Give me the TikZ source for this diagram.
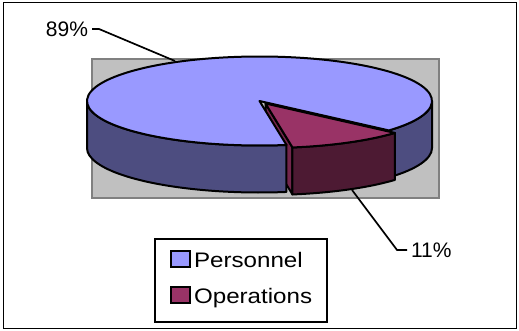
\documentclass[tikz,border=0pt]{standalone}
\usepackage{fontspec}
\setmainfont{Liberation Sans}
\usetikzlibrary{positioning}
\definecolor{persTop}{HTML}{9999FF}
\definecolor{persSide}{HTML}{4D4D80}
\definecolor{opsTop}{HTML}{993366}
\definecolor{opsSide}{HTML}{4D1A33}
\definecolor{plotGray}{HTML}{C0C0C0}
\definecolor{plotEdge}{HTML}{808080}
\begin{document}
\begin{tikzpicture}[
          x=1pt, y=1pt,
          rim/.style={x radius=172.5pt, y radius=44.5pt},
          pieline/.style={draw=black, line width=2pt, line join=round},
          leader/.style={draw=black, line width=1.7pt},
          pct/.style={font=\fontsize{21}{24}\selectfont, inner sep=0pt, outer sep=4pt},
          keybox/.style={draw=black, line width=1.7pt, minimum width=19pt, minimum height=16pt, inner sep=0pt},
          keytext/.style={font=\fontsize{21}{24}\selectfont, inner sep=0pt, anchor=base west}
        ]
        \useasboundingbox (0,0) rectangle (519,330);
        \draw[line width=1pt] (3,1.5) rectangle (516.5,327);
        \filldraw[fill=plotGray, draw=plotEdge, line width=2pt] (92,132) rectangle (439,271);
        \coordinate (C) at (259.5,229);
        \coordinate (O) at (265.5,226.5);
        \path (O) +(0,-47) coordinate (Ob);
        \filldraw[pieline, fill=opsTop!75!black] (O) -- ++(-81:172.5pt and 44.5pt) -- ++(0,-47) -- (Ob) -- cycle;
        \filldraw[pieline, fill=persSide] (C) ++(180:172.5pt and 44.5pt)
          arc[rim, start angle=180, end angle=279] -- ++(0,-47)
          arc[rim, start angle=279, end angle=180] -- cycle;
        \filldraw[pieline, fill=persSide] (C) ++(318.6:172.5pt and 44.5pt)
          arc[rim, start angle=318.6, end angle=360] -- ++(0,-47)
          arc[rim, start angle=360, end angle=318.6] -- cycle;
        \filldraw[pieline, fill=persTop] (C) -- ++(-41.4:172.5pt and 44.5pt)
          arc[rim, start angle=-41.4, end angle=279] -- cycle;
        \filldraw[pieline, fill=opsSide] (O) ++(-81:172.5pt and 44.5pt)
          arc[rim, start angle=-81, end angle=-41.4] -- ++(0,-47)
          arc[rim, start angle=-41.4, end angle=-81] -- cycle;
        \filldraw[pieline, fill=opsTop] (O) -- ++(-81:172.5pt and 44.5pt)
          arc[rim, start angle=-81, end angle=-41.4] -- cycle;
        \node[pct, anchor=east] (persPct) at (92,301) {89\%};
        \coordinate (persTip) at (175,269);
        \draw[leader] (persPct.east) -- ++(7,0) -- (persTip);
        \node[pct, anchor=west] (opsPct) at (407,80) {11\%};
        \coordinate (opsTip) at (352,140);
        \draw[leader] (opsPct.west) -- ++(-10,0) -- (opsTip);
        \draw[line width=1.7pt] (155,8.3) rectangle (326.7,90.7);
        \node[keybox, fill=persTop] (persKey) at (180.5,71) {};
        \node[keytext] (persName) at ([xshift=3pt]persKey.south east) {\scalebox{1.15}[1]{Personnel}};
        \node[keybox, fill=opsTop] (opsKey) at (180.5,35) {};
        \node[keytext] (opsName) at ([xshift=3pt]opsKey.south east) {\scalebox{1.15}[1]{Operations}};
\end{tikzpicture}
\end{document}
